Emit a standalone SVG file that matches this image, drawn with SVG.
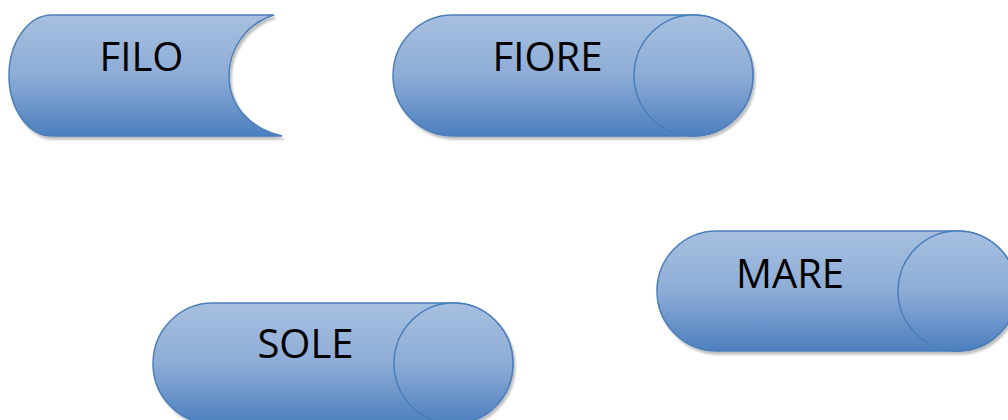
<svg xmlns="http://www.w3.org/2000/svg" width="1008" height="420" viewBox="0 0 1008 420">
  <defs>
    <linearGradient id="g" x1="0" y1="0" x2="0" y2="1">
      <stop offset="0" stop-color="#A8C0E0"/>
      <stop offset="0.5" stop-color="#8DACD6"/>
      <stop offset="1" stop-color="#4C7FBF"/>
    </linearGradient>
    <filter id="sh" x="-10%" y="-10%" width="120%" height="130%">
      <feDropShadow dx="2" dy="3" stdDeviation="1.2" flood-color="#000" flood-opacity="0.25"/>
    </filter>
  </defs>
  <style>
    .body { fill: url(#g); stroke: #4A7EBB; stroke-width: 1.5; }
    .cap { fill: url(#g); stroke: #4A7EBB; stroke-width: 1.5; }
    .lbl { font-family: "Open Sans", "Liberation Sans", sans-serif; font-size: 40px; fill: #000; text-anchor: middle; }
  </style>
  <rect width="1008" height="420" fill="#fff"/>
  <g id="connectors"/>
  <g id="node-filo">
    <path class="body" filter="url(#sh)" d="M52,15 H274 C245,24 229,50 229,75.5 C229,104 248,128 282,136 H52 A43,60.5 0 0 1 52,15 Z"/>
    <text class="lbl" x="141.5" y="71">FILO</text>
  </g>
  <g id="node-fiore">
    <path class="body" filter="url(#sh)" d="M453,15 H693 A60,60.5 0 0 1 693,136 H453 A60,60.5 0 0 1 453,15 Z"/>
    <ellipse class="cap" cx="693.5" cy="75.5" rx="59.5" ry="60.5"/>
    <text class="lbl" x="547.5" y="71">FIORE</text>
  </g>
  <g id="node-mare">
    <path class="body" filter="url(#sh)" d="M717,231 H957 A60,60 0 0 1 957,351 H717 A60,60 0 0 1 717,231 Z"/>
    <ellipse class="cap" cx="957.5" cy="291" rx="59.5" ry="60"/>
    <text class="lbl" x="790" y="288">MARE</text>
  </g>
  <g id="node-sole">
    <path class="body" filter="url(#sh)" d="M213,303 H453 A60,60.5 0 0 1 453,424 H213 A60,60.5 0 0 1 213,303 Z"/>
    <ellipse class="cap" cx="453.5" cy="363.5" rx="59.5" ry="60.5"/>
    <text class="lbl" x="305.5" y="358">SOLE</text>
  </g>
</svg>
